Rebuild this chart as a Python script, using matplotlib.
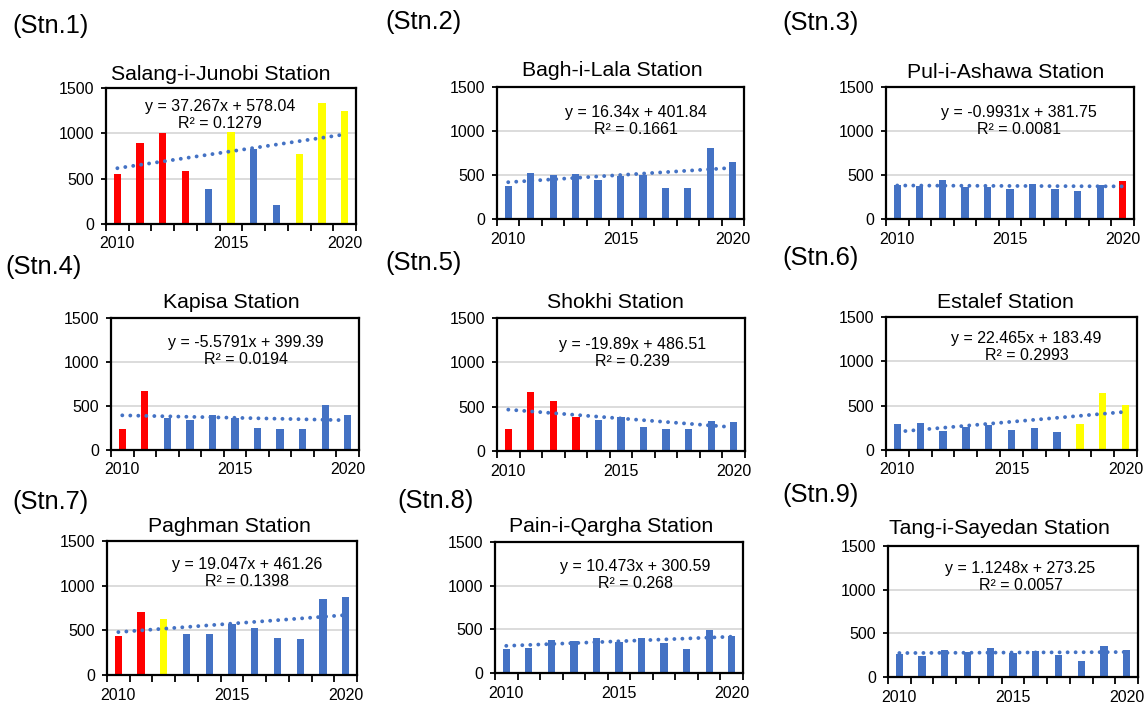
import numpy as np
import matplotlib
matplotlib.use('Agg')
import matplotlib.pyplot as plt

plt.rcParams['font.family'] = ['Liberation Sans', 'DejaVu Sans']

# data (one value per year 2010-2020)
years = np.arange(2010, 2021)

names = ['Salang-i-Junobi Station', 'Bagh-i-Lala Station', 'Pul-i-Ashawa Station',
         'Kapisa Station', 'Shokhi Station', 'Estalef Station',
         'Paghman Station', 'Pain-i-Qargha Station', 'Tang-i-Sayedan Station']
labels = ['(Stn.1)', '(Stn.2)', '(Stn.3)', '(Stn.4)', '(Stn.5)', '(Stn.6)',
          '(Stn.7)', '(Stn.8)', '(Stn.9)']

stn1 = [553, 896, 1006, 586, 387, 1017, 822, 206, 774, 1338, 1242]
stn2 = [376, 520, 501, 509, 444, 494, 501, 353, 353, 809, 646]
stn3 = [387, 380, 441, 361, 361, 338, 395, 346, 319, 387, 433]
stn4 = [241, 671, 369, 343, 396, 362, 245, 237, 241, 516, 396]
stn5 = [249, 667, 565, 384, 354, 384, 268, 253, 245, 339, 332]
stn6 = [294, 309, 215, 262, 285, 228, 243, 202, 288, 640, 512]
stn7 = [438, 703, 625, 456, 464, 569, 524, 415, 408, 853, 868]
stn8 = [278, 282, 377, 370, 404, 358, 400, 343, 270, 488, 427]
stn9 = [267, 240, 313, 290, 336, 275, 298, 248, 179, 355, 305]

# R = red, Y = yellow, B = blue
colors1 = 'RRRRBYBBYYY'
colors2 = 'BBBBBBBBBBB'
colors3 = 'BBBBBBBBBBR'
colors4 = 'RRBBBBBBBBB'
colors5 = 'RRRRBBBBBBB'
colors6 = 'BBBBBBBBYYY'
colors7 = 'RRYBBBBBBBB'
colors8 = 'BBBBBBBBBBB'
colors9 = 'BBBBBBBBBBB'

slopes = [37.267, 16.34, -0.9931, -5.5791, -19.89, 22.465, 19.047, 10.473, 1.1248]
intercepts = [578.04, 401.84, 381.75, 399.39, 486.51, 183.49, 461.26, 300.59, 273.25]
r2 = ['0.1279', '0.1661', '0.0081', '0.0194', '0.239', '0.2993', '0.1398', '0.268', '0.0057']

values = [stn1, stn2, stn3, stn4, stn5, stn6, stn7, stn8, stn9]
codes = [colors1, colors2, colors3, colors4, colors5, colors6, colors7, colors8, colors9]
palette = {'R': '#FF0000', 'Y': '#FFFF00', 'B': '#4472C4'}

# layout in pixels
W, H = 1146, 704
boxes = [(106, 88, 356, 224), (497, 87, 744, 219), (886, 87, 1134, 219),
         (111, 318, 359, 450), (497, 318, 745, 451), (886, 317, 1137, 450),
         (107, 541, 357, 675), (495, 542, 743, 673), (888, 546, 1138, 677)]
label_pos = [(12, 26), (385, 22), (782, 23), (5, 267), (385, 263), (782, 258),
             (12, 502), (397, 501), (782, 495)]
title_x = [0.46, 0.466, 0.484, 0.484, 0.476, 0.474, 0.49, 0.47, 0.445]
title_dy = [13, 16, 14, 15, 16, 14, 14, 16, 18]
eq_x = [0.456, 0.563, 0.536, 0.544, 0.546, 0.56, 0.56, 0.565, 0.53]
eq_top = [106, 112, 112, 342, 345, 339, 565, 567, 568]

fig = plt.figure(figsize=(W / 100, H / 100), dpi=100)

for i in range(9):
    l, t, r, b = boxes[i]
    ax = fig.add_axes([l / W, 1 - b / H, (r - l) / W, (b - t) / H])
    h = b - t
    ax.bar(years, values[i], width=0.32, color=[palette[c] for c in codes[i]], zorder=2)
    # Excel trendline uses x = 1..11 for the categories
    trend = slopes[i] * (years - 2009) + intercepts[i]
    ax.plot(years, trend, color='#4472C4', lw=2.8, linestyle=(0, (0.01, 2.05)),
            dash_capstyle='round', zorder=3)

    ax.set_xlim(2009.5, 2020.5)
    ax.set_ylim(0, 1500)
    ax.set_yticks([0, 500, 1000, 1500])
    ax.set_xticks([2010, 2015, 2020])
    ax.set_xticks(np.arange(2009.5, 2021), minor=True)
    ax.yaxis.grid(True, color='#D9D9D9', lw=1.3)
    ax.set_axisbelow(True)
    ax.tick_params(axis='x', which='major', length=0, pad=9, labelsize=11.5)
    ax.tick_params(axis='x', which='minor', length=5, width=1.3, direction='out')
    ax.tick_params(axis='y', length=3.5, width=1.3, pad=5, labelsize=11.5)
    for s in ax.spines.values():
        s.set_linewidth(1.6)
        s.set_color('black')

    ax.text(title_x[i], 1 + title_dy[i] / h, names[i], transform=ax.transAxes,
            ha='center', va='center', fontsize=15.3)
    ax.text(eq_x[i], 1 - (eq_top[i] - t) / h,
            f'y = {slopes[i]}x + {intercepts[i]}', transform=ax.transAxes,
            ha='center', va='center', fontsize=11.5)
    ax.text(eq_x[i], 1 - (eq_top[i] + 17 - t) / h, f'R² = {r2[i]}',
            transform=ax.transAxes, ha='center', va='center', fontsize=11.5)

    lx, ly = label_pos[i]
    fig.text(lx / W, 1 - ly / H, labels[i], ha='left', va='center', fontsize=18.4)

fig.savefig('out.png', dpi=100)
